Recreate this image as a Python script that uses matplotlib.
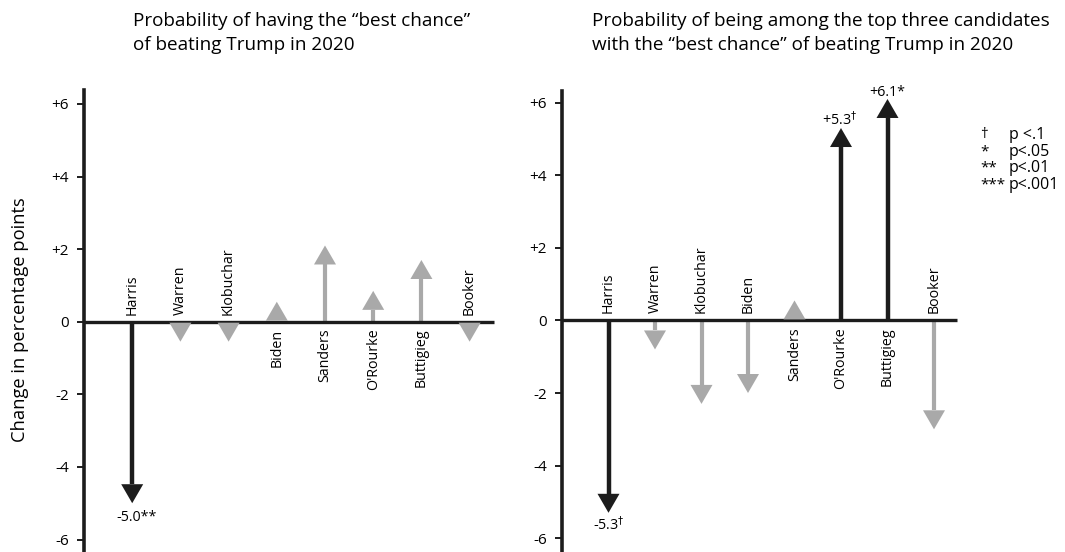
import matplotlib
matplotlib.use("Agg")
import matplotlib.pyplot as plt
from matplotlib.patches import Polygon

plt.rcParams["font.family"] = ["Open Sans", "DejaVu Sans"]
plt.rcParams["mathtext.fontset"] = "dejavusans"

CANDIDATES_BEST = ["Harris", "Warren", "Klobuchar", "Biden", "Sanders", "O'Rourke", "Buttigieg", "Booker"]
CHANGE_BEST = [-5.0, -0.55, -0.55, 0.55, 2.1, 0.85, 1.7, -0.55]
SIG_BEST = [True, False, False, False, False, False, False, False]
LABEL_BEST = ["-5.0**", "", "", "", "", "", "", ""]

CANDIDATES_TOP3 = ["Harris", "Warren", "Klobuchar", "Biden", "Sanders", "O'Rourke", "Buttigieg", "Booker"]
CHANGE_TOP3 = [-5.3, -0.8, -2.3, -2.0, 0.55, 5.3, 6.1, -3.0]
SIG_TOP3 = [True, False, False, False, False, True, True, False]
LABEL_TOP3 = [r"-5.3$^{\dagger}$", "", "", "", "", r"+5.3$^{\dagger}$", "+6.1*", ""]

YTICKS = [6, 4, 2, 0, -2, -4, -6]
YTICKLABELS = ["+6", "+4", "+2", "0", "-2", "-4", "-6"]

LEGEND_SYM = ["\u2020", "*", "**", "***"]
LEGEND_TXT = ["p <.1", "p<.05", "p<.01", "p<.001"]

TITLE_BEST = "Probability of having the \u201cbest chance\u201d\nof beating Trump in 2020"
TITLE_TOP3 = ("Probability of being among the top three candidates\n"
              "with the \u201cbest chance\u201d of beating Trump in 2020")

BLACK = "#1c1c1c"
GREY = "#a9a9a9"
W, H = 1065, 552


def px_axes(fig, left, top, width, bottom=H):
    return fig.add_axes([left / W, 1 - bottom / H, width / W, (bottom - top) / H])


def draw_panel(ax, names, values, sig, labels, xmax, ylim, label_offsets):
    ax.set_xlim(0, xmax)
    ax.set_ylim(*ylim)
    for s in ("top", "right", "bottom"):
        ax.spines[s].set_visible(False)
    ax.spines["left"].set_linewidth(2.6)
    ax.spines["left"].set_color(BLACK)
    ax.set_xticks([])
    ax.set_yticks(YTICKS)
    ax.set_yticklabels(YTICKLABELS, fontsize=11)
    ax.tick_params(axis="y", length=5, width=1.4, pad=6, color=BLACK)
    ax.plot([0, xmax - 0.1], [0, 0], color=BLACK, lw=2.4, solid_capstyle="butt", zorder=3)

    # pixel -> data conversions for the arrow heads
    bb = ax.get_position()
    xs = xmax / (bb.width * W)
    ys = (ylim[1] - ylim[0]) / (bb.height * H)
    head_w = 11 * xs
    head_l = 19 * ys

    for i, (name, v, s, lab) in enumerate(zip(names, values, sig, labels)):
        x = i + 1
        col = BLACK if s else GREY
        sign = 1 if v > 0 else -1
        hl = min(head_l, abs(v))
        base = v - sign * hl
        if abs(base) > 0:
            ax.plot([x, x], [0, base], color=col, lw=3.2 if s else 3.0,
                    solid_capstyle="butt", zorder=2)
        ax.add_patch(Polygon([[x - head_w, base], [x + head_w, base], [x, v]],
                             closed=True, color=col, lw=0, zorder=4))
        if v < 0:
            ax.annotate(name, (x, 0), xytext=(0, 5), textcoords="offset points",
                        rotation=90, ha="center", va="bottom", fontsize=10.3)
        else:
            ax.annotate(name, (x, 0), xytext=(0, -5), textcoords="offset points",
                        rotation=90, ha="center", va="top", fontsize=10.3)
        if lab:
            dx, dy = label_offsets.get(i, (0, 0))
            ax.annotate(lab, (x, v), xytext=(dx, dy), textcoords="offset points",
                        ha="center", va="top" if v < 0 else "bottom", fontsize=10.3)


fig = plt.figure(figsize=(W / 100, H / 100), dpi=100)

ax1 = px_axes(fig, 84, 90, 8.6 * 48.2)
draw_panel(ax1, CANDIDATES_BEST, CHANGE_BEST, SIG_BEST, LABEL_BEST,
           8.6, (-6.344, 6.383), {0: (3, -5)})

ax2 = px_axes(fig, 562, 91, 8.6 * 46.5)
draw_panel(ax2, CANDIDATES_TOP3, CHANGE_TOP3, SIG_TOP3, LABEL_TOP3,
           8.6, (-6.38, 6.32), {0: (0, -2), 5: (-1, -1), 6: (0, -1)})

fig.text(133 / W, 1 - 12 / H, TITLE_BEST, ha="left", va="top", fontsize=13.6, linespacing=1.45)
fig.text(592 / W, 1 - 12 / H, TITLE_TOP3, ha="left", va="top", fontsize=13.6, linespacing=1.45)
fig.text(20 / W, 1 - 320 / H, "Change in percentage points", rotation=90,
         ha="center", va="center", fontsize=13.2)

# significance key
for k, (sym, txt) in enumerate(zip(LEGEND_SYM, LEGEND_TXT)):
    y = 1 - (135 + k * 16.7) / H
    fig.text(980 / W, y, sym, ha="left", va="center", fontsize=11)
    fig.text(1009 / W, y, txt, ha="left", va="center", fontsize=11.5)

fig.savefig("out.png", dpi=100)
